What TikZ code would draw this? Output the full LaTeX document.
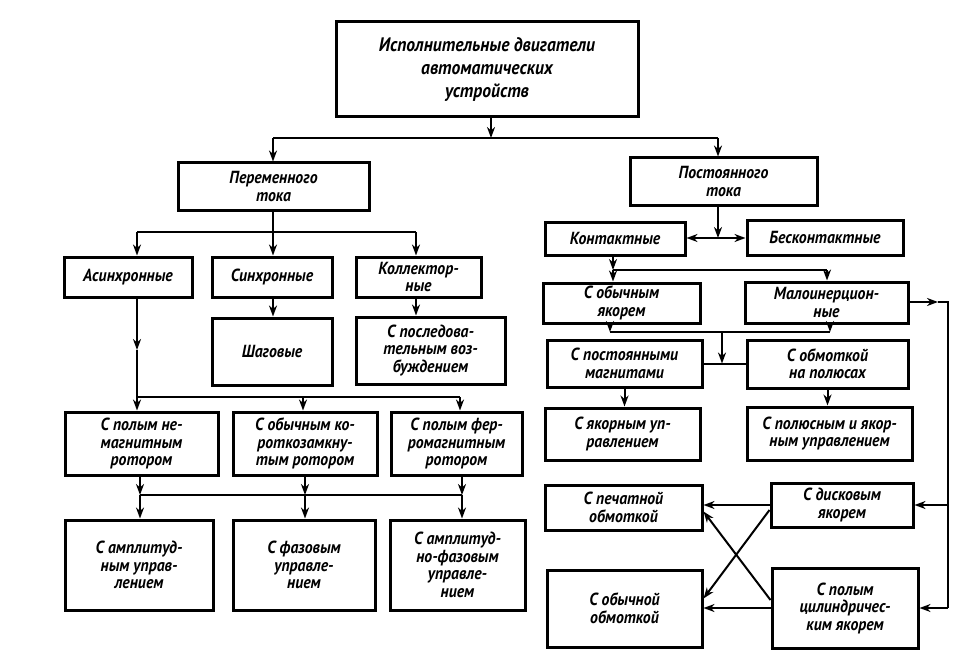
\documentclass[tikz,border=0pt]{standalone}
\usepackage{fontspec}
\newfontfamily\gost{PT Sans}[FakeStretch=0.9]
\usetikzlibrary{arrows.meta}
\def\blk(#1)[#2,#3,#4,#5]#6{\node[blk,minimum width={#4pt-#2pt},minimum height={#5pt-#3pt}] (#1) at ({(#2+#4)/2},{(#3+#5)/2}) {#6};}
\tikzset{
  blk/.style={draw, line width=3pt, inner sep=1pt, align=center, font=\gost\bfseries\itshape\fontsize{17.5}{17.5}\selectfont},
  ln/.style={line width=2pt},
  arr/.style={ln, -{Stealth[length=11pt,width=8pt,inset=3.5pt]}},
}

\begin{document}
\begin{tikzpicture}[x=1pt,y=-1pt]
	%%%%% START %%%%%
	\useasboundingbox[fill=white] (0,0) rectangle (973,663);
	
	\node[blk,minimum width=302pt,minimum height=95pt,font=\gost\bfseries\itshape\fontsize{19.5}{23}\selectfont] (top) at (487,69.5) {Исполнительные двигатели\\автоматических\\устройств};
	\blk(ac)[178,163,369,210]{Переменного\\тока}
	\blk(dc)[630,158,817,205]{Постоянного\\тока}
	
	% alternating current
	\blk(asyn)[64,257,192,297]{Асинхронные}
	\blk(syn)[212,257,332,297]{Синхронные}
	\blk(coll)[356,257,481,297]{Коллектор-\\ные}
	\blk(stepper)[212,318,332,385]{Шаговые}
	\blk(ser)[356,317,505,384]{С последова-\\тельным воз-\\буждением}
	\blk(hnm)[65,412,218,475]{С полым не-\\магнитным\\ротором}
	\blk(sqc)[233,412,377,475]{С обычным ко-\\роткозамкну-\\тым ротором}
	\blk(hfm)[391,412,522,475]{С полым фер-\\ромагнитным\\ротором}
	\blk(amp)[65,520,213,610]{С амплитуд-\\ным управ-\\лением}
	\blk(phs)[233,520,375,610]{С фазовым\\управле-\\нием}
	\blk(aph)[390,520,525,610]{С амплитуд-\\но-фазовым\\управле-\\нием}
	
	% direct current
	\blk(cont)[545,222,685,255]{Контактные}
	\blk(ncont)[747,220,903,255]{Бесконтактные}
	\blk(nanc)[543,283,700,323]{С обычным\\якорем}
	\blk(lowin)[745,282,908,323]{Малоинерцион-\\ные}
	\blk(pm)[547,340,702,387]{С постоянными\\магнитами}
	\blk(pw)[747,340,908,388]{С обмоткой\\на полюсах}
	\blk(arm)[545,408,700,460]{С якорным уп-\\равлением}
	\blk(parm)[747,407,912,460]{С полюсным и якор-\\ным управлением}
	\blk(print)[545,485,702,530]{С печатной\\обмоткой}
	\blk(disk)[771,483,913,527]{С дисковым\\якорем}
	\blk(ord)[547,570,702,647]{С обычной\\обмоткой}
	\blk(cyl)[772,568,918,648]{С полым\\цилиндричес-\\ким якорем}
	
	% junctions
	\coordinate (jt) at (491,138);
	\coordinate (jtl) at (273,138);
	\coordinate (jtr) at (718,138);
	\coordinate (ja) at (273,232);
	\coordinate (jal) at (137,232);
	\coordinate (jar) at (416,232);
	\coordinate (jam) at (137,350);
	\coordinate (jb) at (137,397);
	\coordinate (jbm) at (303,397);
	\coordinate (jbr) at (460,397);
	\coordinate (jc) at (140,495);
	\coordinate (jcm) at (305,495);
	\coordinate (jcr) at (462,495);
	\coordinate (jd) at (718,238);
	\coordinate (je) at (613,270);
	\coordinate (jer) at (827,270);
	\coordinate (jf) at (610,332);
	\coordinate (jfm) at (722,332);
	\coordinate (jfr) at (830,332);
	\coordinate (jga) at (938,302);
	\coordinate (jg) at (948,302);
	\coordinate (jgm) at (948,505);
	\coordinate (jgb) at (948,608);
	
	% top level
	\draw[arr] (top.south -| jt) -- (jt);
	\draw[ln] (jtl) -- (jtr);
	\draw[arr] (jtl) -- (jtl |- ac.north);
	\draw[arr] (jtr) -- (jtr |- dc.north);
	
	% left branch
	\draw[ln] (ac.south -| ja) -- (ja);
	\draw[ln] (jal) -- (jar);
	\draw[arr] (jal) -- (jal |- asyn.north);
	\draw[arr] (ja) -- (ja |- syn.north);
	\draw[arr] (jar) -- (jar |- coll.north);
	\draw[arr] (ja |- syn.south) -- (ja |- stepper.north);
	\draw[arr] (jar |- coll.south) -- (jar |- ser.north);
	\draw[arr] (jam |- asyn.south) -- (jam);
	\draw[ln] (jam) -- (jb);
	\draw[ln] (jb) -- (jbr);
	\draw[arr] (jb) -- (jb |- hnm.north);
	\draw[arr] (jbm) -- (jbm |- sqc.north);
	\draw[arr] (jbr) -- (jbr |- hfm.north);
	\draw[arr] (jc |- hnm.south) -- (jc);
	\draw[arr] (jcm |- sqc.south) -- (jcm);
	\draw[arr] (jcr |- hfm.south) -- (jcr);
	\draw[ln] (jc) -- (jcr);
	\draw[arr] (jc) -- (jc |- amp.north);
	\draw[arr] (jcm) -- (jcm |- phs.north);
	\draw[arr] (jcr) -- (jcr |- aph.north);
	
	% right branch
	\draw[arr] (dc.south -| jd) -- (jd);
	\draw[arr] (jd) -- (jd -| cont.east);
	\draw[arr] (jd) -- (jd -| ncont.west);
	\draw[arr] (je |- cont.south) -- (je);
	\draw[ln] (je) -- (jer);
	\draw[arr] (je) -- (je |- nanc.north);
	\draw[arr] (jer) -- (jer |- lowin.north);
	\draw[arr] (jf |- nanc.south) -- (jf);
	\draw[arr] (jfr |- lowin.south) -- (jfr);
	\draw[ln] (jf) -- (jfr);
	\draw[arr] (jfm) -- (jfm |- pm.east);
	\draw[ln] (pm.east) -- (pm.east -| pw.west);
	\draw[arr] (pm.south) -- (pm.south |- arm.north);
	\draw[arr] (pw.south) -- (pw.south |- parm.north);
	
	\draw[arr] (lowin.east |- jga) -- (jga);
	\draw[ln] (jga) -- (jg) -- (jgb);
	\draw[arr] (jgm) -- (jgm -| disk.east);
	\draw[arr] (jgb) -- (jgb -| cyl.east);
	\draw[arr] (disk.west) -- (disk.west -| print.east);
	\draw[arr] (cyl.west) -- (cyl.west -| ord.east);
	\draw[arr] ([yshift=-5pt]disk.west) -- ([yshift=10pt]ord.east);
	\draw[arr] ([yshift=8pt]cyl.west) -- ([yshift=-4pt]print.east);
	
	%%%%% END %%%%%
\end{tikzpicture}
\end{document}
